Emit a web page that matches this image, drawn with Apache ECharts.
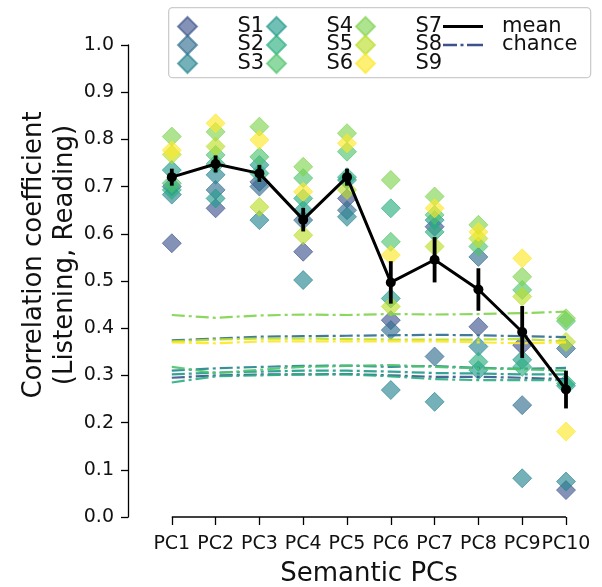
<!DOCTYPE html>
<html><head><meta charset="utf-8">
<script src="https://cdn.jsdelivr.net/npm/echarts@6/dist/echarts.min.js"></script>
<style>html,body{margin:0;padding:0;background:#fff}#c{width:602px;height:587px}</style>
</head><body><div id="c"></div>
<script>
// ---- data ----
const categories = ['PC1','PC2','PC3','PC4','PC5','PC6','PC7','PC8','PC9','PC10'];
const yTickLabels = ['0.0','0.1','0.2','0.3','0.4','0.5','0.6','0.7','0.8','0.9','1.0'];
const subjects = ['S1','S2','S3','S4','S5','S6','S7','S8','S9'];
const colors = ['#3b528b','#2f6c8e','#25838e','#1f9a8a','#29af7f','#4ec36b','#7fd34e','#bade28','#fde725'];

const S1 = [0.580,0.654,0.710,0.562,0.675,0.417,0.615,0.403,0.364,0.057];
const S2 = [0.700,0.693,0.700,0.629,0.650,0.396,0.340,0.551,0.237,0.357];
const S3 = [0.683,0.725,0.629,0.502,0.636,0.269,0.244,0.361,0.082,0.075];
const S4 = [0.735,0.675,0.746,0.650,0.714,0.463,0.629,0.311,0.333,0.278];
const S5 = [0.693,0.748,0.728,0.675,0.720,0.654,0.604,0.329,0.318,0.283];
const S6 = [0.707,0.767,0.763,0.718,0.774,0.583,0.640,0.573,0.481,0.415];
const S7 = [0.806,0.816,0.827,0.742,0.813,0.714,0.679,0.619,0.509,0.421];
const S8 = [0.768,0.785,0.657,0.597,0.693,0.446,0.573,0.590,0.467,0.371];
const S9 = [0.777,0.834,0.799,0.689,0.792,0.555,0.654,0.604,0.548,0.181];

const meanVals = [0.720,0.748,0.728,0.630,0.720,0.497,0.545,0.482,0.392,0.270];
const meanErr  = [0.018,0.018,0.018,0.025,0.018,0.045,0.048,0.045,0.055,0.040];

const chanceS1 = [0.295,0.300,0.302,0.302,0.303,0.300,0.297,0.297,0.295,0.292];
const chanceS2 = [0.374,0.378,0.382,0.383,0.384,0.385,0.386,0.385,0.383,0.381];
const chanceS3 = [0.310,0.315,0.318,0.320,0.321,0.318,0.320,0.316,0.314,0.316];
const chanceS4 = [0.302,0.306,0.308,0.310,0.310,0.308,0.305,0.304,0.302,0.302];
const chanceS5 = [0.285,0.298,0.300,0.302,0.302,0.298,0.292,0.290,0.290,0.290];
const chanceS6 = [0.318,0.305,0.312,0.318,0.320,0.322,0.318,0.315,0.313,0.310];
const chanceS7 = [0.428,0.422,0.427,0.429,0.428,0.430,0.429,0.430,0.432,0.435];
const chanceS8 = [0.372,0.376,0.378,0.378,0.377,0.376,0.376,0.376,0.377,0.372];
const chanceS9 = [0.370,0.368,0.372,0.372,0.372,0.372,0.372,0.370,0.368,0.370];

const subjVals = [S1,S2,S3,S4,S5,S6,S7,S8,S9];
const chanceVals = [chanceS1,chanceS2,chanceS3,chanceS4,chanceS5,chanceS6,chanceS7,chanceS8,chanceS9];

// ---- chart ----
const FONT = 'DejaVu Sans';
const xs = categories.map((c,i)=>i+1);
const series = [];

chanceVals.forEach((arr,k)=>{
  series.push({
    name:'chance', type:'line', symbol:'none', silent:true, z:3,
    data: arr.map((v,i)=>[xs[i],v]),
    lineStyle:{color:colors[k], width:2.2, type:[13,4,3,4], opacity:0.9},
    itemStyle:{color:colors[k]}
  });
});
subjVals.forEach((arr,k)=>{
  series.push({
    name:subjects[k], type:'scatter', symbol:'diamond', symbolSize:19, z:2,
    data: arr.map((v,i)=>[xs[i],v]),
    itemStyle:{color:colors[k], opacity:0.63, borderColor:colors[k], borderWidth:1}
  });
});
series.push({
  name:'mean', type:'line', symbol:'circle', symbolSize:10, z:6,
  data: meanVals.map((v,i)=>[xs[i],v]),
  lineStyle:{color:'#000', width:3}, itemStyle:{color:'#000'}
});
series.push({
  name:'meanErr', type:'custom', z:6,
  data: meanVals.map((v,i)=>[xs[i],v,meanErr[i]]),
  encode:{x:0,y:1},
  renderItem:(params,api)=>{
    const x=api.value(0), m=api.value(1), e=api.value(2);
    const a=api.coord([x,m-e]), b=api.coord([x,m+e]);
    return {type:'line', shape:{x1:a[0],y1:a[1],x2:b[0],y2:b[1]}, style:{stroke:'#000', lineWidth:3.8}};
  }
});
series.push({
  name:'xspine', type:'line', symbol:'none', silent:true, clip:false, z:1,
  data:[[xs[0],0],[xs[xs.length-1],0]],
  lineStyle:{color:'#000', width:1.3}
});

const DIAMOND = 'path://M10 0L20 10L10 20L0 10Z';
const legCommon = (padLeft) => ({
  orient:'vertical', itemWidth:40, itemHeight:19, itemGap:-2.5, padding:0, selectedMode:false,
  textStyle:{fontFamily:FONT, fontSize:21, color:'#111', lineHeight:19, padding:[0,0,0,padLeft]}
});
const subjLegend = names => names.map(n=>({name:n, icon:DIAMOND}));

const option = {
  animation:false,
  backgroundColor:'#fff',
  grid:{left:128, right:36, top:45, bottom:70, outerBoundsMode:'none', containLabel:false},
  xAxis:{
    type:'value', min:0, max:10, interval:1,
    axisLine:{show:false}, splitLine:{show:false},
    axisTick:{show:true, customValues:xs, length:8, lineStyle:{color:'#000', width:1.3}},
    axisLabel:{customValues:xs, formatter:v=>categories[v-1]||'', fontFamily:FONT, fontSize:19, color:'#111', margin:18},
    name:'Semantic PCs', nameLocation:'middle', nameGap:44, nameMoveOverlap:false,
    nameTextStyle:{fontFamily:FONT, fontSize:26, color:'#111', padding:[0,0,0,44]}
  },
  yAxis:{
    type:'value', min:0, max:1, interval:0.1,
    axisLine:{show:true, lineStyle:{color:'#000', width:1.3}},
    axisTick:{show:true, length:7, lineStyle:{color:'#000', width:1.3}},
    splitLine:{show:false},
    axisLabel:{formatter:v=>yTickLabels[Math.round(v*10)], fontFamily:FONT, fontSize:19, color:'#111', margin:14},
    name:'Correlation coefficient\n(Listening, Reading)', nameLocation:'middle', nameGap:47, nameMoveOverlap:false,
    nameTextStyle:{fontFamily:FONT, fontSize:26, color:'#111', lineHeight:31, padding:[0,0,0,52]}
  },
  graphic:[{type:'rect', left:168, top:7, z:-1, shape:{width:422, height:70, r:4},
    style:{fill:'#fff', stroke:'#cccccc', lineWidth:1.3}}],
  legend:[
    Object.assign({left:177, top:16, data:subjLegend(['S1','S2','S3'])}, legCommon(25)),
    Object.assign({left:266, top:16, data:subjLegend(['S4','S5','S6'])}, legCommon(25)),
    Object.assign({left:355, top:16, data:subjLegend(['S7','S8','S9'])}, legCommon(25)),
    Object.assign({left:443, top:16, data:[
      {name:'mean', icon:'path://M0 0H40V3H0Z'},
      {name:'chance', icon:'path://M0 0H14V2.5H0Z M17.5 0H20.5V2.5H17.5Z M24 0H40V2.5H24Z'}
    ]}, legCommon(14))
  ],
  series
};
const chart = echarts.init(document.getElementById('c'), null, {renderer:'canvas'});
chart.setOption(option);
</script></body></html>
